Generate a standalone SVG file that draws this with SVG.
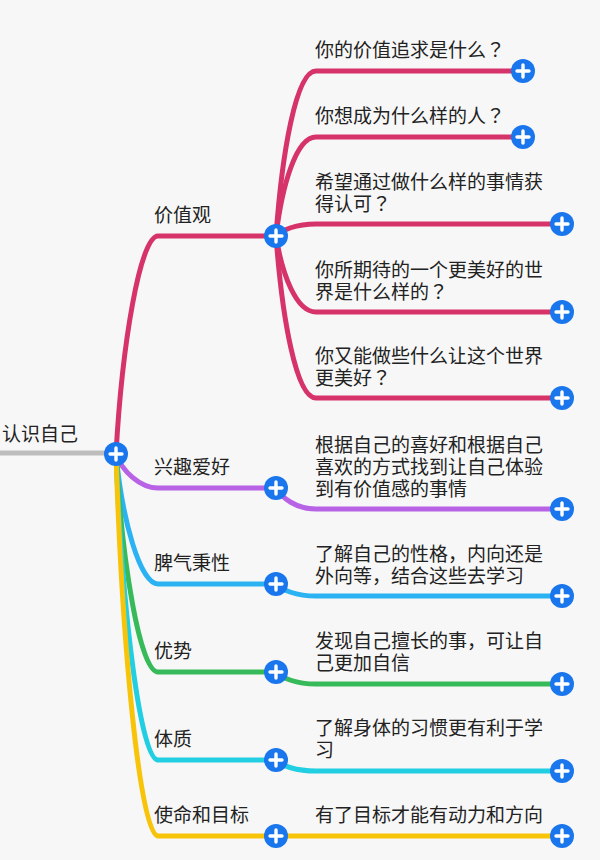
<svg xmlns="http://www.w3.org/2000/svg" xmlns:xlink="http://www.w3.org/1999/xlink" width="600" height="860" viewBox="0 0 600 860">
<style>
text{font-family:"Noto Sans CJK SC","Noto Sans",sans-serif;font-size:19px;fill:#222}
.q{font-family:"Noto Sans CJK JP","Noto Sans CJK SC",sans-serif}
.c{fill:none;stroke-width:5;stroke-linecap:round}
.pk{stroke:#D6336B}.pu{stroke:#B862E6}.bl{stroke:#2AB2F2}.gr{stroke:#36BA5A}.cy{stroke:#22CEE2}.ye{stroke:#F8C40A}
</style>
<defs>
<g id="plus"><circle r="12" fill="#1976EC"/><path d="M-6 0H6M0-6V6" stroke="#fff" stroke-width="3.4" stroke-linecap="round"/></g>
</defs>
<rect width="600" height="860" fill="#F7F7F7"/>
<g id="connectors">
<path d="M0 453H112" stroke="#BDBDBD" stroke-width="5" fill="none"/>
<path class="c pk" d="M116 454C122 345 140 236 158 236H276"/>
<path class="c pu" d="M116 454C122 471 140 488 158 488H276"/>
<path class="c bl" d="M116 454C122 519 140 584 158 584H276"/>
<path class="c gr" d="M116 454C122 563 140 672 158 672H276"/>
<path class="c cy" d="M116 454C122 607 140 760 158 760H276"/>
<path class="c ye" d="M116 454C122 645 140 836 158 836H276"/>
<path class="c pk" d="M276 236C282 153 296 71 316 71H523"/>
<path class="c pk" d="M276 236C282 186 296 137 316 137H523"/>
<path class="c pk" d="M276 236C282 230 296 224 316 224H562"/>
<path class="c pk" d="M276 236C282 274 296 312 316 312H562"/>
<path class="c pk" d="M276 236C282 317 296 398 316 398H562"/>
<path class="c pu" d="M276 488C282 498 296 509 316 509H562"/>
<path class="c bl" d="M276 584C282 590 296 596 316 596H562"/>
<path class="c gr" d="M276 672C282 678 296 684 316 684H562"/>
<path class="c cy" d="M276 760C282 766 296 771 316 771H562"/>
<path class="c ye" d="M276 836H562"/>
</g>
<g id="root"><text x="2" y="441">认识自己</text><use xlink:href="#plus" x="116" y="454"/></g>
<g id="n-jzg"><text x="154" y="222">价值观</text><use xlink:href="#plus" x="276" y="236"/></g>
<g id="n-xqah"><text x="154" y="474">兴趣爱好</text><use xlink:href="#plus" x="276" y="488"/></g>
<g id="n-pqbx"><text x="154" y="570">脾气秉性</text><use xlink:href="#plus" x="276" y="584"/></g>
<g id="n-ys"><text x="154" y="658">优势</text><use xlink:href="#plus" x="276" y="672"/></g>
<g id="n-tz"><text x="154" y="746">体质</text><use xlink:href="#plus" x="276" y="760"/></g>
<g id="n-smmb"><text x="154" y="822">使命和目标</text><use xlink:href="#plus" x="276" y="836"/></g>
<g id="c1"><text x="315" y="57">你的价值追求是什么<tspan class="q">？</tspan></text><use xlink:href="#plus" x="523" y="71"/></g>
<g id="c2"><text x="315" y="123">你想成为什么样的人<tspan class="q">？</tspan></text><use xlink:href="#plus" x="523" y="137"/></g>
<g id="c3"><text x="315" y="189">希望通过做什么样的事情获<tspan x="315" dy="22">得认可</tspan><tspan class="q">？</tspan></text><use xlink:href="#plus" x="562" y="224"/></g>
<g id="c4"><text x="315" y="277">你所期待的一个更美好的世<tspan x="315" dy="22">界是什么样的</tspan><tspan class="q">？</tspan></text><use xlink:href="#plus" x="562" y="312"/></g>
<g id="c5"><text x="315" y="363">你又能做些什么让这个世界<tspan x="315" dy="22">更美好</tspan><tspan class="q">？</tspan></text><use xlink:href="#plus" x="562" y="398"/></g>
<g id="c6"><text x="315" y="452">根据自己的喜好和根据自己<tspan x="315" dy="22">喜欢的方式找到让自己体验</tspan><tspan x="315" dy="22">到有价值感的事情</tspan></text><use xlink:href="#plus" x="562" y="509"/></g>
<g id="c7"><text x="315" y="561">了解自己的性格，内向还是<tspan x="315" dy="22">外向等，结合这些去学习</tspan></text><use xlink:href="#plus" x="562" y="596"/></g>
<g id="c8"><text x="315" y="648">发现自己擅长的事，可让自<tspan x="315" dy="22">己更加自信</tspan></text><use xlink:href="#plus" x="562" y="684"/></g>
<g id="c9"><text x="315" y="735">了解身体的习惯更有利于学<tspan x="315" dy="22">习</tspan></text><use xlink:href="#plus" x="562" y="771"/></g>
<g id="c10"><text x="315" y="822">有了目标才能有动力和方向</text><use xlink:href="#plus" x="562" y="836"/></g>
</svg>
